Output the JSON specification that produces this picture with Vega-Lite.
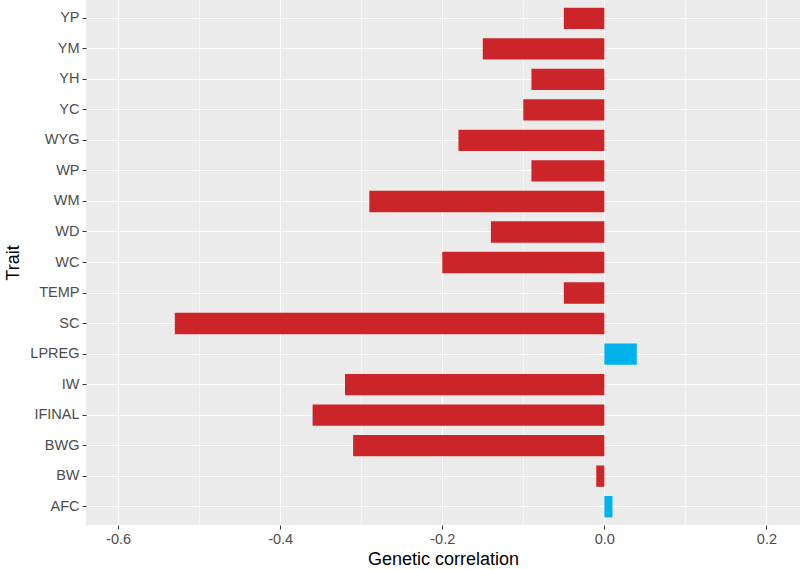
{
  "$schema": "https://vega.github.io/schema/vega-lite/v6.json",
  "autosize": "none",
  "width": 714,
  "height": 525,
  "padding": {"left": 86, "top": 0, "right": 0, "bottom": 45},
  "background": "white",
  "config": {
    "font": "Liberation Sans",
    "view": {"fill": "#EBEBEB", "stroke": null},
    "axis": {"domain": false, "gridColor": "white", "tickColor": "#333333", "labelColor": "#4D4D4D", "labelFontSize": 14.5, "titleFontSize": 18, "titleFontWeight": "normal", "titleColor": "black", "tickSize": 4}
  },
  "data": {"values": [
    {"trait": "YP", "corr": -0.05, "dir": "negative"},
    {"trait": "YM", "corr": -0.15, "dir": "negative"},
    {"trait": "YH", "corr": -0.09, "dir": "negative"},
    {"trait": "YC", "corr": -0.10, "dir": "negative"},
    {"trait": "WYG", "corr": -0.18, "dir": "negative"},
    {"trait": "WP", "corr": -0.09, "dir": "negative"},
    {"trait": "WM", "corr": -0.29, "dir": "negative"},
    {"trait": "WD", "corr": -0.14, "dir": "negative"},
    {"trait": "WC", "corr": -0.20, "dir": "negative"},
    {"trait": "TEMP", "corr": -0.05, "dir": "negative"},
    {"trait": "SC", "corr": -0.53, "dir": "negative"},
    {"trait": "LPREG", "corr": 0.04, "dir": "positive"},
    {"trait": "IW", "corr": -0.32, "dir": "negative"},
    {"trait": "IFINAL", "corr": -0.36, "dir": "negative"},
    {"trait": "BWG", "corr": -0.31, "dir": "negative"},
    {"trait": "BW", "corr": -0.01, "dir": "negative"},
    {"trait": "AFC", "corr": 0.01, "dir": "positive"}
  ]},
  "mark": {"type": "bar"},
  "encoding": {
    "y": {"field": "trait", "type": "nominal", "sort": "descending",
      "scale": {"paddingInner": 0.3, "paddingOuter": 0.25},
      "axis": {"title": "Trait", "grid": true, "bandPosition": 0.5, "gridWidth": 1.1, "labelPadding": 3, "titlePadding": 7}},
    "x": {"field": "corr", "type": "quantitative",
      "scale": {"domain": [-0.6396, 0.2414], "nice": false, "zero": false},
      "axis": {"title": "Genetic correlation",
        "values": [-0.6, -0.5, -0.4, -0.3, -0.2, -0.1, 0, 0.1, 0.2],
        "labelExpr": "abs(round(datum.value*10)) % 2 == 1 ? '' : replace(format(datum.value, '.1f'), '\u2212', '-')",
        "gridWidth": {"condition": {"test": "abs(round(datum.value*10)) % 2 == 1", "value": 0.55}, "value": 1.1},
        "tickOpacity": {"condition": {"test": "abs(round(datum.value*10)) % 2 == 1", "value": 0}, "value": 1},
        "labelPadding": 3, "titlePadding": 5}},
    "color": {"field": "dir", "type": "nominal",
      "scale": {"domain": ["negative", "positive"], "range": ["#CC2529", "#00B2EC"]},
      "legend": null}
  }
}
